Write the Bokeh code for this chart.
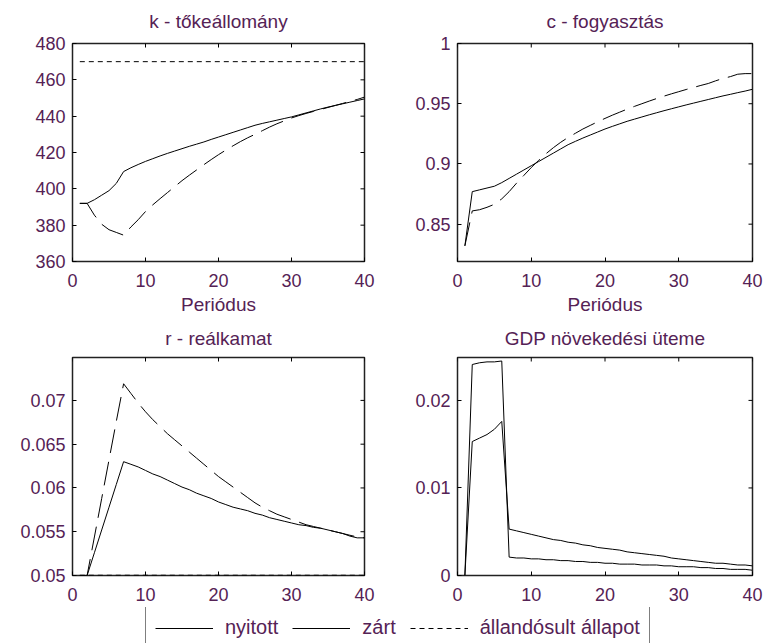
import math
from bokeh.plotting import figure
from bokeh.layouts import column, row
from bokeh.models import (Range1d, FixedTicker, CustomJSTickFormatter,
                          Legend, LegendItem)
from bokeh.embed import file_html
from bokeh.resources import INLINE

# ---------------- data ----------------
periods = list(range(1, 41))

k_nyitott = [392.0, 392.0, 394.0, 396.5, 399.0, 403.0, 409.5, 411.6, 413.4, 415.1,
             416.6, 418.1, 419.5, 420.8, 422.1, 423.4, 424.6, 425.8, 427.2, 428.5,
             429.8, 431.1, 432.4, 433.7, 435.0, 436.0, 436.9, 437.8, 438.7, 439.6,
             440.7, 441.8, 442.9, 444.0, 445.0, 445.9, 446.8, 447.7, 448.6, 449.5]
k_zart = [392.0, 392.0, 385.5, 380.5, 377.5, 376.0, 374.5, 379.0, 383.0, 387.5,
          391.2, 394.6, 397.9, 401.2, 404.5, 407.5, 410.4, 413.3, 416.1, 418.8,
          421.3, 423.7, 426.0, 428.1, 430.0, 432.0, 434.0, 435.8, 437.4, 439.0,
          440.3, 441.5, 442.6, 443.7, 444.8, 445.9, 447.0, 448.1, 449.2, 450.5]
k_allandosult = 470.0

c_nyitott = [0.832, 0.877, 0.8785, 0.880, 0.8815, 0.8845, 0.888, 0.8915, 0.895, 0.8985,
             0.902, 0.9055, 0.909, 0.9125, 0.916, 0.9188, 0.9215, 0.924, 0.9265, 0.929,
             0.9312, 0.9333, 0.9354, 0.9372, 0.939, 0.9408, 0.9425, 0.9442, 0.9458, 0.9474,
             0.949, 0.9505, 0.952, 0.9535, 0.955, 0.9565, 0.9578, 0.9592, 0.9605, 0.962]
c_zart = [0.832, 0.861, 0.862, 0.864, 0.8665, 0.871, 0.877, 0.884, 0.8905, 0.897,
          0.903, 0.9085, 0.9135, 0.918, 0.922, 0.9255, 0.929, 0.932, 0.935, 0.9378,
          0.9405, 0.943, 0.9455, 0.9478, 0.95, 0.9522, 0.9543, 0.9563, 0.9582, 0.96,
          0.9618, 0.9635, 0.9652, 0.9668, 0.969, 0.971, 0.9725, 0.9745, 0.975, 0.975]

r_nyitott = [0.05, 0.05, 0.0526, 0.0552, 0.0578, 0.0604, 0.063, 0.0627, 0.0624, 0.062,
             0.0616, 0.0613, 0.0609, 0.0605, 0.0601, 0.0598, 0.0594, 0.0591, 0.0588, 0.0584,
             0.0581, 0.0578, 0.0576, 0.0574, 0.0571, 0.0569, 0.0566, 0.0564, 0.0562, 0.056,
             0.0558, 0.0557, 0.0555, 0.0554, 0.0552, 0.055, 0.0548, 0.0545, 0.0543, 0.0543]
r_zart = [0.05, 0.05, 0.0544, 0.0588, 0.0632, 0.0676, 0.0719, 0.0708, 0.0697, 0.0687,
          0.0678, 0.067, 0.0662, 0.0655, 0.0648, 0.0641, 0.0634, 0.0627, 0.062, 0.0613,
          0.0607, 0.0601, 0.0595, 0.0589, 0.0583, 0.0578, 0.0574, 0.057, 0.0567, 0.0564,
          0.0561, 0.0558, 0.0556, 0.0554, 0.0552, 0.055, 0.0548, 0.0546, 0.0544, 0.0543]
r_allandosult = 0.05

gdp_nyitott = [0.0, 0.0241, 0.0243, 0.0244, 0.0244, 0.0245, 0.0021, 0.002, 0.002, 0.0019,
               0.0019, 0.0018, 0.0018, 0.0017, 0.0017, 0.0016, 0.0016, 0.0015, 0.0015, 0.0014,
               0.0014, 0.0013, 0.0013, 0.0013, 0.0012, 0.0012, 0.0012, 0.0011, 0.0011, 0.001,
               0.001, 0.001, 0.0009, 0.0009, 0.0008, 0.0008, 0.0007, 0.0007, 0.0007, 0.0006]
gdp_zart = [0.0, 0.0153, 0.0157, 0.0161, 0.0167, 0.0176, 0.0053, 0.0051, 0.0049, 0.0047,
            0.0045, 0.0043, 0.0041, 0.004, 0.0038, 0.0037, 0.0035, 0.0034, 0.0032, 0.0031,
            0.003, 0.0029, 0.0027, 0.0026, 0.0025, 0.0024, 0.0023, 0.0022, 0.002, 0.0019,
            0.0018, 0.0017, 0.0016, 0.0015, 0.0014, 0.0014, 0.0013, 0.0012, 0.0012, 0.0011]

x_ticks = [0, 10, 20, 30, 40]
k_ticks = [360, 380, 400, 420, 440, 460, 480]
c_ticks = [0.85, 0.9, 0.95, 1.0]
r_ticks = [0.05, 0.055, 0.06, 0.065, 0.07]
gdp_ticks = [0, 0.01, 0.02]

titles = ["k - tőkeállomány", "c - fogyasztás", "r - reálkamat", "GDP növekedési üteme"]
x_label = "Periódus"
legend_labels = ["nyitott", "zárt", "állandósult állapot"]

# ---------------- style ----------------
FONT = "Liberation Sans"
TXT = "#552255"
DASH_ZART = "24 9"
DASH_SS = "5 4"

fmt = CustomJSTickFormatter(code="return String(parseFloat(tick.toFixed(6)));")


def panel(title, w, h, bl, br, bt, bb, yr, yt, xlabel=None, standoff=16):
    p = figure(width=w, height=h, x_range=Range1d(0, 40), y_range=Range1d(*yr),
               output_backend="svg", toolbar_location=None,
               min_border_left=bl, min_border_right=br,
               min_border_top=bt, min_border_bottom=bb)
    xb = p.below[0]
    yl = p.left[0]
    p.title.text = title
    p.title.align = "center"
    p.title.vertical_align = "top"
    p.title.text_font = FONT
    p.title.text_font_size = "19px"
    p.title.text_font_style = "normal"
    p.title.text_color = TXT
    p.title.standoff = standoff
    p.grid.visible = False
    p.outline_line_color = "#222222"
    p.outline_line_width = 1.5
    xb.ticker = FixedTicker(ticks=x_ticks)
    yl.ticker = FixedTicker(ticks=yt)
    yl.formatter = fmt
    for ax in (xb, yl):
        ax.axis_line_color = None
        ax.major_tick_in = 4
        ax.major_tick_out = 0
        ax.minor_tick_line_color = None
        ax.major_tick_line_color = "black"
        ax.major_label_text_font = FONT
        ax.major_label_text_font_size = "18px"
        ax.major_label_text_color = TXT
    yl.major_label_standoff = 7
    xb.major_label_standoff = 12
    if xlabel:
        xb.axis_label = xlabel
        xb.axis_label_text_font = FONT
        xb.axis_label_text_font_size = "19px"
        xb.axis_label_text_font_style = "normal"
        xb.axis_label_text_color = TXT
        xb.axis_label_standoff = 4
    # inward ticks on the right and top edges (clipped to the frame)
    p.scatter([40] * len(yt), yt, marker="dash", size=8, line_color="black",
              line_width=1)
    p.scatter(x_ticks, [yr[1]] * len(x_ticks), marker="dash", size=8, angle=math.pi / 2,
              line_color="black", line_width=1)
    return p


W1, W2 = 400, 365
H1, H2, H3 = 320, 287, 36

p1 = panel(titles[0], W1, H1, 72, 36, 43, 59, (360, 480), k_ticks, x_label, standoff=20)
p1.line(periods, k_nyitott, color="black", line_width=1)
p1.line(periods, k_zart, color="black", line_width=1, line_dash=DASH_ZART)
p1.line([periods[0], periods[-1]], [k_allandosult, k_allandosult], color="black",
        line_width=1, line_dash=DASH_SS)

p2 = panel(titles[1], W2, H1, 57, 13, 43, 59, (0.819, 1.0), c_ticks, x_label, standoff=20)
p2.line(periods, c_nyitott, color="black", line_width=1)
p2.line(periods, c_zart, color="black", line_width=1, line_dash=DASH_ZART)

p3 = panel(titles[2], W1, H2, 72, 36, 37, 32, (0.05, 0.0749), r_ticks, standoff=14)
p3.line(periods, r_nyitott, color="black", line_width=1)
p3.line(periods, r_zart, color="black", line_width=1, line_dash=DASH_ZART)
p3.line([periods[0], periods[-1]], [r_allandosult, r_allandosult], color="black",
        line_width=1.5, line_dash=DASH_SS)

p4 = panel(titles[3], W2, H2, 57, 13, 37, 32, (0.0, 0.0249), gdp_ticks, standoff=14)
p4.line(periods, gdp_nyitott, color="black", line_width=1)
p4.line(periods, gdp_zart, color="black", line_width=1)

# legend strip
pl = figure(width=W1 + W2, height=H3, x_range=Range1d(0, 1), y_range=Range1d(0, 1),
            output_backend="svg", toolbar_location=None, min_border=0,
            x_axis_location=None, y_axis_location=None)
pl.grid.visible = False
pl.outline_line_color = None
r_a = pl.line([5, 6], [5, 6], color="black", line_width=1)
r_b = pl.line([5, 6], [5, 6], color="black", line_width=1)
r_c = pl.line([5, 6], [5, 6], color="black", line_width=1, line_dash=DASH_SS)
leg = Legend(items=[LegendItem(label=legend_labels[0], renderers=[r_a]),
                    LegendItem(label=legend_labels[1], renderers=[r_b]),
                    LegendItem(label=legend_labels[2], renderers=[r_c])],
             orientation="horizontal", location=(145, -6),
             glyph_width=58, glyph_height=20, label_height=20, label_standoff=12,
             spacing=14, padding=9, margin=0,
             border_line_color="black", border_line_width=1.5,
             label_text_font=FONT, label_text_font_size="20px", label_text_color=TXT,
             background_fill_alpha=1.0)
pl.add_layout(leg, "center")

layout = column(row(p1, p2), row(p3, p4), pl, spacing=0)
open("out.html", "w").write(file_html(layout, INLINE))
